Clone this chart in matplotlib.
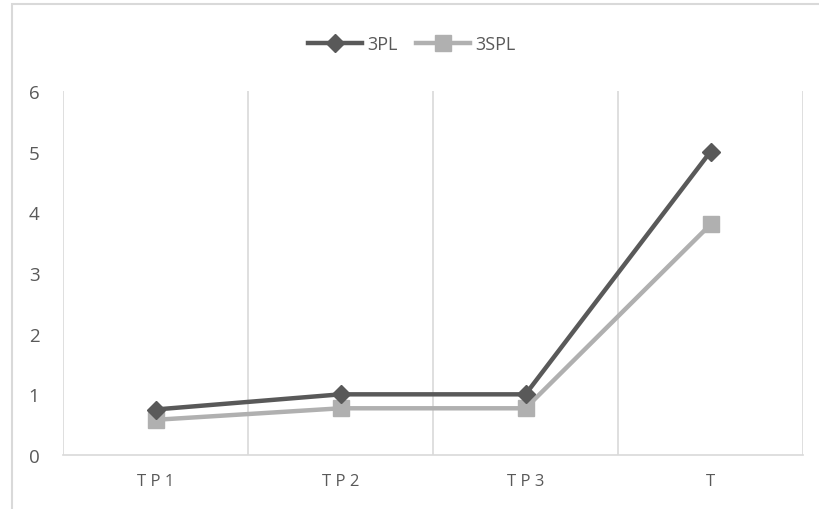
import matplotlib.pyplot as plt
from matplotlib.patches import Rectangle

categories = ["T P 1", "T P 2", "T P 3", "T"]
pl3 = [0.75, 1.0, 1.0, 5.0]
spl3 = [0.58, 0.77, 0.77, 3.8]

plt.rcParams['font.family'] = ['Open Sans', 'DejaVu Sans']

fig = plt.figure(figsize=(8.19, 5.1), dpi=100)
ax = fig.add_axes([63 / 819, 1 - 456 / 510, 740 / 819, 364 / 510])

x = list(range(len(categories)))
ax.plot(x, pl3, color="#595959", lw=3.2, marker="D", ms=9.5,
        label="3PL", zorder=3)
ax.plot(x, spl3, color="#B0B0B0", lw=3.2, marker="s", ms=12,
        label="3SPL", zorder=2)

ax.set_xlim(-0.5, 3.5)
ax.set_ylim(0, 6)
ax.set_yticks(range(7))
ax.set_xticks(x)
ax.set_xticklabels(categories)

# vertical gridlines between categories
for b in [-0.5, 0.5, 1.5, 2.5, 3.5]:
    ax.axvline(b, color="#D9D9D9", lw=1.2, zorder=1)

for s in ["top", "right", "left"]:
    ax.spines[s].set_visible(False)
ax.spines["bottom"].set_color("#D9D9D9")
ax.spines["bottom"].set_linewidth(1.2)

ax.tick_params(length=0, labelsize=13.5, colors="#595959")
ax.tick_params(axis="y", pad=17)
ax.tick_params(axis="x", pad=13, labelsize=12)

ax.legend(loc="center", bbox_to_anchor=(412 / 819, 1 - 45 / 510),
          bbox_transform=fig.transFigure, ncol=2, frameon=False,
          fontsize=13, labelcolor="#595959", handlelength=3,
          columnspacing=1.0, handletextpad=0.3)

# outer chart border
fig.patches.append(Rectangle((12 / 819, -0.1), 1.2, 1 - 5 / 510 + 0.1,
                             transform=fig.transFigure, fill=False,
                             edgecolor="#D9D9D9", lw=1.5))

fig.savefig("out.png", dpi=100)
